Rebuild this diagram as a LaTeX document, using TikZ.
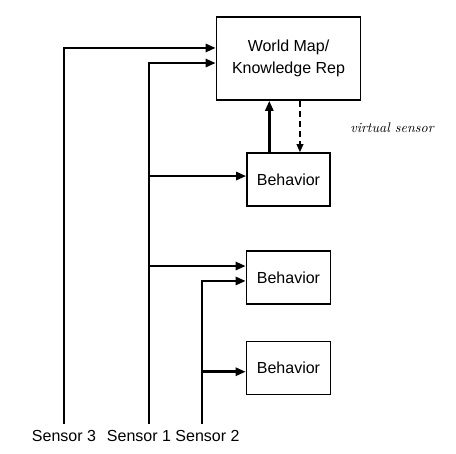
\documentclass[tikz,border=0pt]{standalone}
\usepackage{fontspec}
\setsansfont{Liberation Sans}
\usetikzlibrary{arrows.meta}

\tikzset{
  box/.style={draw, line width=1.2pt, inner sep=0pt, font=\sffamily\fontsize{12}{16.5}\selectfont, align=center},
  wire/.style={line width=2pt, -{Triangle[length=7.5pt,width=6pt]}},
  vwire/.style={line width=1.1pt, dash pattern=on 4.5pt off 3pt, -{Triangle[length=6pt,width=5pt]}},
  sensorlabel/.style={font=\sffamily\fontsize{12}{14}\selectfont, inner sep=0pt}
}

\begin{document}
\begin{tikzpicture}[x=0.75pt, y=-0.75pt]
		\useasboundingbox (0,0) rectangle (456,453);
		\node[box, minimum width=144*0.75pt, minimum height=83*0.75pt] (map) at (288.5,58.5) {World Map/\\Knowledge Rep};
		\node[box, minimum width=83*0.75pt, minimum height=53*0.75pt] (beh1) at (288.5,179.5) {Behavior};
		\node[box, minimum width=84*0.75pt, minimum height=53*0.75pt] (beh2) at (288.5,277.5) {Behavior};
		\node[box, minimum width=84*0.75pt, minimum height=53*0.75pt] (beh3) at (288.5,368) {Behavior};
		\node[font=\fontsize{10.5}{12}\selectfont\itshape, inner sep=0pt] (vs) at (392,128) {virtual sensor};
		\coordinate (s3) at (64,424);
		\coordinate (s1) at (149,424);
		\coordinate (s2) at (202,424);
		\node[sensorlabel] (lab3) at (64,436) {Sensor 3};
		\node[sensorlabel] (lab1) at (139,436) {Sensor 1};
		\node[sensorlabel] (lab2) at (207.5,436) {Sensor 2};
		\draw[wire] (s3) |- ([yshift=7.9pt]map.west);
		\draw[wire] (s1) |- ([yshift=-3.4pt]map.west);
		\draw[wire] ([yshift=2.6pt]beh1.west -| s1) -- ([yshift=2.6pt]beh1.west);
		\draw[wire] ([yshift=8.6pt]beh2.west -| s1) -- ([yshift=8.6pt]beh2.west);
		\draw[wire] (s2) |- ([yshift=-2.6pt]beh2.west);
		\draw[wire] ([yshift=-2.8pt]beh3.west -| s2) -- ([yshift=-2.8pt]beh3.west);
		\draw[wire] ([xshift=-14.4pt]beh1.north) -- ([xshift=-14.4pt]beh1.north |- map.south);
		\draw[vwire] ([xshift=8.6pt]beh1.north |- map.south) -- ([xshift=8.6pt]beh1.north);
	\end{tikzpicture}
\end{document}
